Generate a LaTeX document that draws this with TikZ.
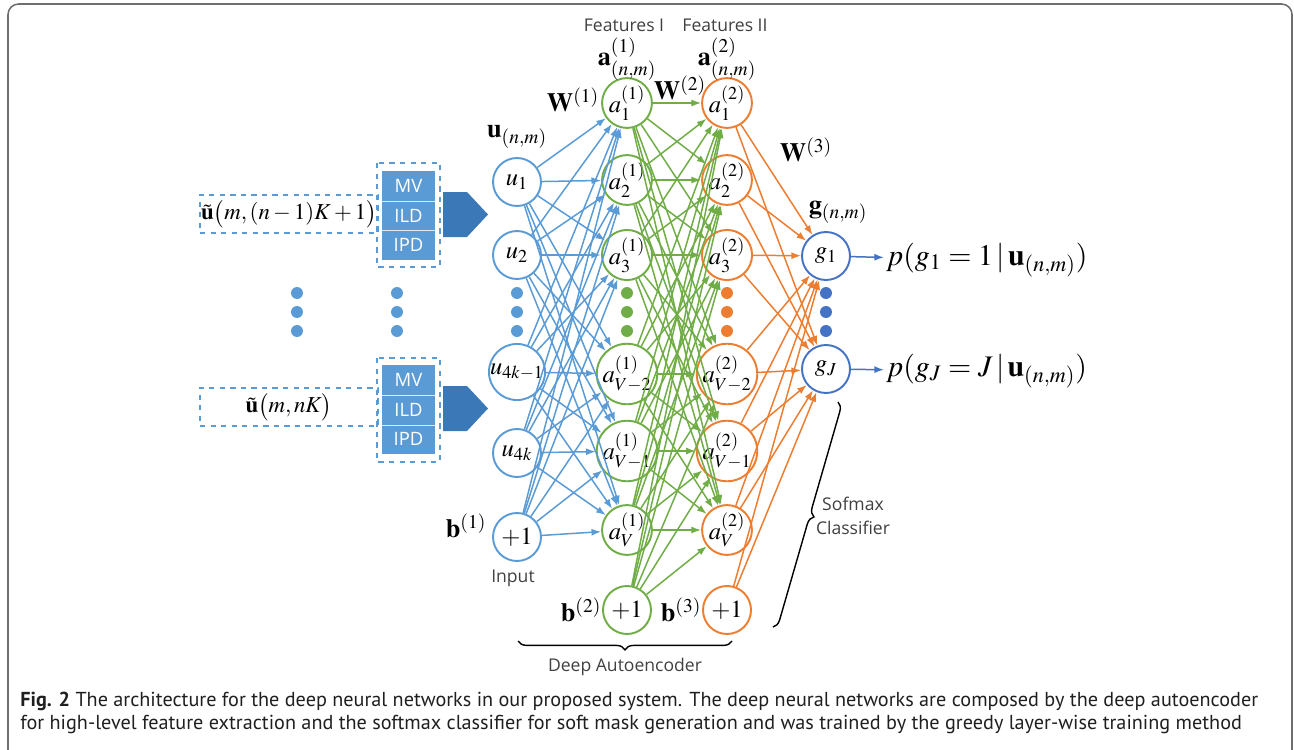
\documentclass[tikz,border=0pt]{standalone}
\usepackage{mathptmx}
\usepackage[no-math]{fontspec}
\newfontfamily\labelfont{Open Sans}
\newfontfamily\capfont{PT Sans}
\usetikzlibrary{arrows.meta,decorations.pathreplacing}
\definecolor{inblue}{HTML}{5B9BD5}
\definecolor{arrowblue}{HTML}{3B78B8}
\definecolor{outblue}{HTML}{4472C4}
\definecolor{featgreen}{HTML}{70AD47}
\definecolor{featorange}{HTML}{ED7D31}
\definecolor{labelgray}{HTML}{404040}
\definecolor{framegray}{HTML}{6E6E6E}
\begin{document}
\begin{tikzpicture}[x=0.02cm,y=-0.02cm,
	neuron/.style={circle,draw,line width=1.1pt,minimum size=0.96cm,inner sep=0pt,font=\fontsize{14}{16}\selectfont},
	link/.style={line width=0.85pt,-{Latex[length=5.5pt,width=4pt]}},
	lbl/.style={font=\fontsize{15}{17}\selectfont},
	sanslbl/.style={font=\labelfont\fontsize{10}{13.6}\selectfont,text=labelgray,align=center},
	txtbox/.style={draw=inblue,dashed,line width=0.9pt,minimum width=3.56cm,minimum height=0.76cm,inner sep=0pt,font=\fontsize{13}{15}\selectfont},
	cell/.style={fill=inblue,minimum width=1.06cm,minimum height=0.6cm,inner sep=0pt,text=white,font=\labelfont\fontsize{10.5}{12}\selectfont},
	brc/.style={decorate,decoration={brace,amplitude=5pt},line width=0.8pt}]
	\useasboundingbox (0,0) rectangle (1294,750);
	\draw[framegray,line width=0.9pt,rounded corners=6pt] (8,780) -- (8,4) -- (1292,4) -- (1292,780);

	% input side
	\node[txtbox] (x1) at (289,214) {$\tilde{\mathbf{u}}\big(m,(n-1)K+1\big)$};
	\node[txtbox] (x2) at (289,407) {$\tilde{\mathbf{u}}\big(m,nK\big)$};
	\node[cell] (mv1) at (408.5,186) {MV};
	\node[cell] (ild1) at (408.5,215.5) {ILD};
	\node[cell] (ipd1) at (408.5,245) {IPD};
	\node[cell] (mv2) at (408.5,380) {MV};
	\node[cell] (ild2) at (408.5,409.5) {ILD};
	\node[cell] (ipd2) at (408.5,439) {IPD};
	\draw[white!80!inblue,line width=0.4pt] (mv1.south west) -- (mv1.south east) (ild1.south west) -- (ild1.south east)
		(mv2.south west) -- (mv2.south east) (ild2.south west) -- (ild2.south east);
	\draw[inblue,dashed,line width=0.9pt] (377,163) rectangle (440,267) (377,358) rectangle (440,462);
	\fill[arrowblue] (443,192) -- (467,192) -- (488,214.5) -- (467,237) -- (443,237) -- cycle;
	\fill[arrowblue] (443,386) -- (467,386) -- (488,408.5) -- (467,431) -- (443,431) -- cycle;

	% layers
	\node[neuron,draw=inblue] (in1) at (517,182) {$u_1$};
	\node[neuron,draw=inblue] (in2) at (517,255) {$u_2$};
	\node[neuron,draw=inblue] (in3) at (517,372) {$u_{4k-1}$};
	\node[neuron,draw=inblue] (in4) at (517,453) {$u_{4k}$};
	\node[neuron,draw=inblue] (in5) at (517,537) {$+1$};
	\node[neuron,draw=featgreen] (fa1) at (627,103) {$a_1^{(1)}$};
	\node[neuron,draw=featgreen] (fa2) at (627,180) {$a_2^{(1)}$};
	\node[neuron,draw=featgreen] (fa3) at (627,255) {$a_3^{(1)}$};
	\node[neuron,draw=featgreen] (fa4) at (627,374) {$a_{V-2}^{(1)}$};
	\node[neuron,draw=featgreen] (fa5) at (627,451) {$a_{V-1}^{(1)}$};
	\node[neuron,draw=featgreen] (fa6) at (627,530) {$a_V^{(1)}$};
	\node[neuron,draw=featgreen] (fa7) at (627,610) {$+1$};
	\node[neuron,draw=featorange] (fb1) at (727,103) {$a_1^{(2)}$};
	\node[neuron,draw=featorange] (fb2) at (727,180) {$a_2^{(2)}$};
	\node[neuron,draw=featorange] (fb3) at (727,255) {$a_3^{(2)}$};
	\node[neuron,draw=featorange] (fb4) at (727,374) {$a_{V-2}^{(2)}$};
	\node[neuron,draw=featorange] (fb5) at (727,451) {$a_{V-1}^{(2)}$};
	\node[neuron,draw=featorange] (fb6) at (727,530) {$a_V^{(2)}$};
	\node[neuron,draw=featorange] (fb7) at (727,610) {$+1$};
	\node[neuron,draw=outblue] (g1) at (826,256) {$g_1$};
	\node[neuron,draw=outblue] (g2) at (826,369) {$g_J$};
	\node[anchor=west,inner sep=1pt,font=\fontsize{17}{19}\selectfont] (p1) at (884,260) {$p(g_1=1\,|\,\mathbf{u}_{(n,m)})$};
	\node[anchor=west,inner sep=1pt,font=\fontsize{17}{19}\selectfont] (p2) at (884,371) {$p(g_J=J\,|\,\mathbf{u}_{(n,m)})$};

	\foreach \i in {1,...,5}
		\foreach \j in {1,...,6}
			\draw[link,inblue] (in\i) -- (fa\j);
	\foreach \i in {1,...,7}
		\foreach \j in {1,...,6}
			\draw[link,featgreen] (fa\i) -- (fb\j);
	\foreach \i in {1,...,7}
		\foreach \j in {1,2}
			\draw[link,featorange] (fb\i) -- (g\j);
	\draw[link,outblue] (g1) -- (p1);
	\draw[link,outblue] (g2) -- (p2);

	\foreach \x/\c in {297/inblue,397/inblue,517/inblue,627/featgreen,727/featorange,826/outblue}
		\foreach \y in {293,312,331}
			\fill[\c] (\x,\y) circle[radius=3.4pt];

	% labels
	\node[sanslbl] (f1) at (624,25) {Features I};
	\node[sanslbl] (f2) at (725,25) {Features II};
	\node[lbl] (la1) at (627,59) {$\mathbf{a}^{(1)}_{(n,m)}$};
	\node[lbl] (la2) at (727,59) {$\mathbf{a}^{(2)}_{(n,m)}$};
	\node[lbl] (w1) at (573,100) {$\mathbf{W}^{(1)}$};
	\node[lbl] (w2) at (680,88) {$\mathbf{W}^{(2)}$};
	\node[lbl] (w3) at (806,150) {$\mathbf{W}^{(3)}$};
	\node[lbl] (lu) at (517,137) {$\mathbf{u}_{(n,m)}$};
	\node[lbl] (lg) at (838,212) {$\mathbf{g}_{(n,m)}$};
	\node[lbl] (b1) at (466,526) {$\mathbf{b}^{(1)}$};
	\node[lbl] (b2) at (581,610) {$\mathbf{b}^{(2)}$};
	\node[lbl] (b3) at (681,610) {$\mathbf{b}^{(3)}$};
	\node[sanslbl] (inp) at (513,578) {Input};
	\draw[brc] (732,641) -- (518,641) node[sanslbl,midway,below=6pt] {Deep Autoencoder};
	\draw[brc] (838,402) -- (773,627);
	\node[sanslbl] (soft) at (853,516) {Sofmax\\Classifier};

	% caption
	\node[anchor=base west,inner sep=0pt,text=black!88,font=\capfont\fontsize{11.5}{13}\selectfont] (c1) at (20,706)
		{\textbf{Fig. 2} The architecture for the deep neural networks in our proposed system. The deep neural networks are composed by the deep autoencoder};
	\node[anchor=base west,inner sep=0pt,text=black!88,font=\capfont\fontsize{11.5}{13}\selectfont] (c2) at (20,729)
		{for high-level feature extraction and the softmax classifier for soft mask generation and was trained by the greedy layer-wise training method};
\end{tikzpicture}
\end{document}
